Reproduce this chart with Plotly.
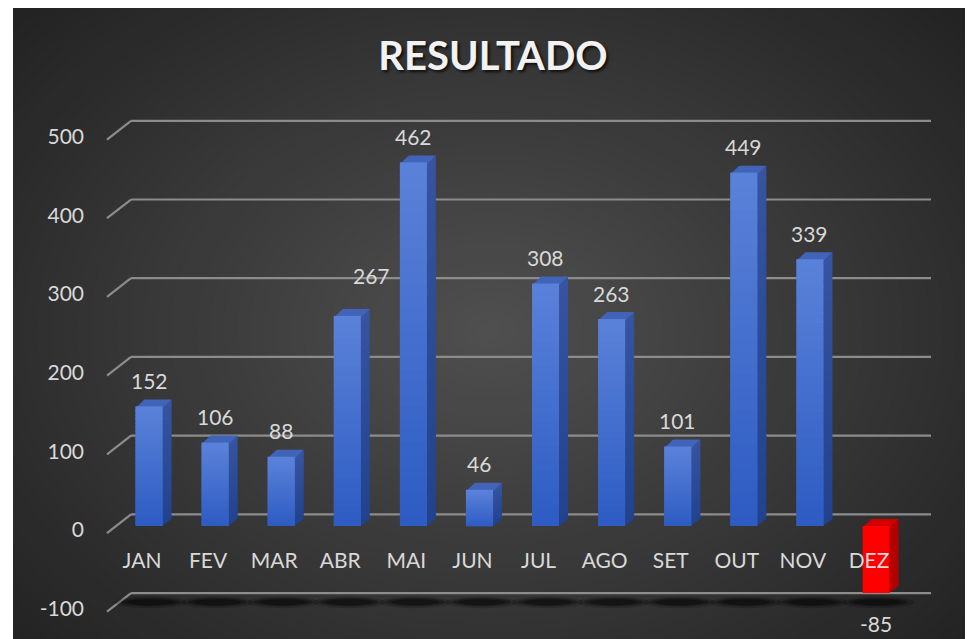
import plotly.graph_objects as go

# ---------------- data ----------------
months = ["JAN", "FEV", "MAR", "ABR", "MAI", "JUN", "JUL", "AGO", "SET", "OUT", "NOV", "DEZ"]
resultado = [152, 106, 88, 267, 462, 46, 308, 263, 101, 449, 339, -85]
y_tick_values = [-100, 0, 100, 200, 300, 400, 500]
y_tick_labels = ["-100", "0", "100", "200", "300", "400", "500"]
chart_title = "RESULTADO"

# ---------------- layout geometry (screen px; page body has an 8px margin) ----------------
OFF = 8
W, H = 973 - OFF, 639 - OFF
PL, PR, PT, PB = 115, 914, 100, 630          # plot area in screen px
ML, MR, MT, MB = PL - OFF, W - (PR - OFF), PT - OFF, H - (PB - OFF)
PLOT_W = PR - PL
PLOT_H = PB - PT
Y_MIN, Y_MAX = -132.1, 541.3
PPU = PLOT_H / (Y_MAX - Y_MIN)          # pixels per value unit

def fx(px):
    return (px - PL) / PLOT_W

def fy(py):
    return (PB - py) / PLOT_H

def mix(c0, c1, t):
    return "rgb(%d,%d,%d)" % tuple(int(round(c0[j] + (c1[j] - c0[j]) * t)) for j in range(3))

DEPTH_X = 9                    # px, bar depth to the right
DEPTH_Y = 7 / PPU              # value units, bar depth upwards
BACK_Y = 11.7 / PPU            # back wall offset (value units)
FLOOR_Y = -7 / PPU             # floor front edge offset
BACK_X0, BACK_X1 = 16, 816     # back wall gridline extent (px from plot left)
FRONT_X = -8                   # floor front edge (px from plot left)
HALF_W = 13.5                  # half width of bar front face (px)
SEAM = 1.5 / PPU               # overlap between shading slices

FONT = "Lato"
TXT = "#d9d9d9"
POS_FRONT = "#3d6ccd"
POS_BOTTOM, POS_TOPCOL = (0x2d, 0x5b, 0xc2), (0x5b, 0x82, 0xd9)
POS_SIDE_B, POS_SIDE_T = (0x22, 0x42, 0x8e), (0x36, 0x54, 0xa0)
POS_TOP = "#4264b8"
NEG_FRONT, NEG_SIDE, NEG_TOP = "#ff0000", "#b30000", "#d00000"

shapes = []

# ---------- radial gradient background ----------
cx, cy = 490, 330
RX, RY = 640, 470
outer = (0x23, 0x23, 0x23)
inner = (0x50, 0x50, 0x50)
N = 48
for k in range(N):
    s = 1 - k / N
    shapes.append(dict(type="circle", layer="below", xref="paper", yref="paper",
                       x0=fx(cx - RX * s), x1=fx(cx + RX * s),
                       y0=fy(cy + RY * s), y1=fy(cy - RY * s),
                       fillcolor=mix(inner, outer, s), line=dict(width=0)))
# white page margin on the left
shapes.append(dict(type="rect", layer="below", xref="paper", yref="paper",
                   x0=fx(-20), x1=fx(13), y0=fy(700), y1=fy(-20),
                   fillcolor="white", line=dict(width=0)))

# ---------- gridlines on back wall + floor diagonals ----------
GRID = "#8c8c8c"
for t in y_tick_values:
    shapes.append(dict(type="line", layer="below", xref="paper", xsizemode="pixel", xanchor=0,
                       x0=BACK_X0, x1=BACK_X1, yref="y", y0=t + BACK_Y, y1=t + BACK_Y,
                       line=dict(color=GRID, width=2.2)))
    shapes.append(dict(type="line", layer="below", xref="paper", xsizemode="pixel", xanchor=0,
                       x0=FRONT_X, x1=BACK_X0, yref="y", y0=t + FLOOR_Y, y1=t + BACK_Y,
                       line=dict(color=GRID, width=2.2)))

# ---------- floor shadows ----------
floor = y_tick_values[0]
for i in range(len(months)):
    for (hw, h0, h1, op) in [(36, 10.5, -4.5, 0.18), (30, 8.5, -2.0, 0.3), (24, 7.0, -0.5, 0.3)]:
        shapes.append(dict(type="circle", layer="below", xref="x", xsizemode="pixel", xanchor=i,
                           x0=-hw + 2, x1=hw + 2, yref="y",
                           y0=floor + h0, y1=floor + h1,
                           fillcolor="rgba(0,0,0,%.2f)" % op, line=dict(width=0)))

# ---------- 3D side & top faces, front-face shading ----------
SLICES = 30
a, b = HALF_W, HALF_W + DEPTH_X
for i, v in enumerate(resultado):
    tv = max(v, 0)
    if v >= 0:
        for k in range(SLICES):
            y0 = v * k / SLICES
            y1 = v * (k + 1) / SLICES
            y0s = y0 - SEAM if k > 0 else y0
            t = (k + 0.5) / SLICES
            shapes.append(dict(type="rect", layer="above", xref="x", xsizemode="pixel", xanchor=i,
                               x0=-a, x1=a, yref="y", y0=y0s, y1=y1,
                               fillcolor=mix(POS_BOTTOM, POS_TOPCOL, t), line=dict(width=0)))
            shapes.append(dict(type="path", layer="below", xref="x", xsizemode="pixel", xanchor=i,
                               yref="y",
                               path="M %g,%g L %g,%g L %g,%g L %g,%g Z" % (
                                   a - 0.5, y0s, a - 0.5, y1, b, y1 + DEPTH_Y, b, y0s + DEPTH_Y),
                               fillcolor=mix(POS_SIDE_B, POS_SIDE_T, t), line=dict(width=0)))
        top = POS_TOP
    else:
        shapes.append(dict(type="path", layer="below", xref="x", xsizemode="pixel", xanchor=i,
                           yref="y",
                           path="M %g,%g L %g,%g L %g,%g L %g,%g Z" % (
                               a - 0.5, 0, a - 0.5, v, b, v + DEPTH_Y, b, DEPTH_Y),
                           fillcolor=NEG_SIDE, line=dict(width=0)))
        top = NEG_TOP
    shapes.append(dict(type="path", layer="below", xref="x", xsizemode="pixel", xanchor=i, yref="y",
                       path="M %g,%g L %g,%g L %g,%g L %g,%g Z" % (-a, tv - SEAM, a, tv - SEAM,
                                                                  b, tv + DEPTH_Y,
                                                                  -a + DEPTH_X, tv + DEPTH_Y),
                       fillcolor=top, line=dict(width=0)))

# ---------- value labels ----------
label_nudge = {"ABR": (24, 14)}
annotations = []
for m, v in zip(months, resultado):
    dx, dy = label_nudge.get(m, (0, 0))
    annotations.append(dict(x=m, y=v, xref="x", yref="y", text=str(v), showarrow=False,
                            xanchor="center", yanchor="middle",
                            xshift=dx, yshift=(26 + dy) if v >= 0 else -31,
                            font=dict(family=FONT, size=21, color=TXT)))

fig = go.Figure()
fig.add_trace(go.Bar(
    x=months, y=resultado,
    marker=dict(color=[POS_FRONT if v >= 0 else NEG_FRONT for v in resultado], line=dict(width=0)),
    hoverinfo="x+y", showlegend=False,
))

fig.update_layout(
    width=W, height=H,
    margin=dict(l=ML, r=MR, t=MT, b=MB, pad=0),
    paper_bgcolor="#232323",
    plot_bgcolor="rgba(0,0,0,0)",
    bargap=0.595,
    shapes=shapes,
    annotations=annotations,
    title=dict(text=chart_title, x=(493 - OFF) / W, xref="container", xanchor="center",
               y=1 - (56 - OFF) / H, yref="container", yanchor="middle",
               font=dict(family=FONT, size=40, weight="bold", color="#f2f2f2",
                         shadow="2px 2px 3px rgba(0,0,0,0.75)")),
    xaxis=dict(type="category", anchor="free", position=fy(526), showgrid=False,
               zeroline=False, showline=False, ticks="",
               tickfont=dict(family=FONT, size=21, color=TXT),
               ticklabelstandoff=20, ticklabelshift=-7, fixedrange=True),
    yaxis=dict(range=[Y_MIN, Y_MAX], tickvals=y_tick_values, ticktext=y_tick_labels,
               showgrid=False, zeroline=False, showline=False, ticks="",
               tickfont=dict(family=FONT, size=21, color=TXT),
               ticklabelstandoff=30, ticklabelshift=4, fixedrange=True),
    showlegend=False,
)

fig.write_html("out.html")
